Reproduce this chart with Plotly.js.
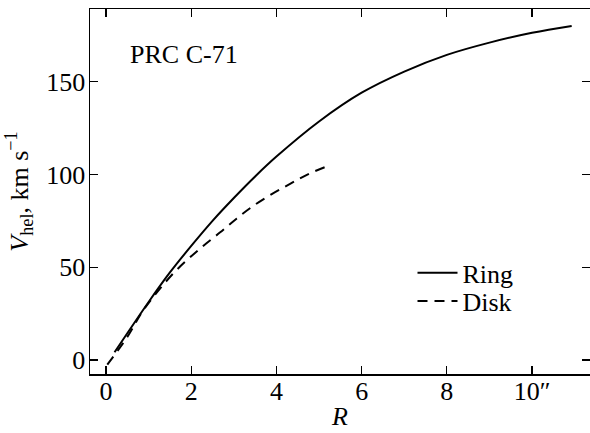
<!DOCTYPE html>
<html>
<head>
<meta charset="utf-8">
<script src="https://cdn.plot.ly/plotly-3.0.1.min.js"></script>
<style>html,body{margin:0;padding:0;background:#fff;}#chart{width:590px;height:433px;}</style>
</head>
<body>
<div id="chart"></div>
<script>
// Data
const ringR = [0.2, 1, 1.5, 2, 2.5, 3, 3.5, 4, 5, 6, 7, 8, 9, 10, 10.93];
const ringV = [4.2, 31.3, 47.2, 61.5, 75.0, 87.3, 98.9, 109.6, 128.5, 144, 155.4, 164.4, 171, 176.3, 180];
const diskR = [0.03, 0.5, 0.88, 1.58, 2.21, 2.68, 3.07, 3.46, 3.89, 4.32, 4.75, 5.26];
const diskV = [-2.5, 12.5, 27, 46.7, 60.1, 68.8, 76.3, 83.1, 89.4, 94.9, 100.2, 105];
const xTickVals = [0, 2, 4, 6, 8, 10];
const xTickText = ["0", "2", "4", "6", "8", "10\u2033"];
const yTickVals = [0, 50, 100, 150];
const yTickText = ["0", "50", "100", "150"];
const seriesNames = ["Ring", "Disk"];
const label = "PRC C-71";

const FONT = "'Liberation Serif', 'Times New Roman', serif";

const traces = [
  {x: ringR, y: ringV, name: seriesNames[0], mode: "lines", type: "scatter", legend: "legend",
   line: {color: "#000", width: 2, shape: "spline", smoothing: 1}},
  {x: diskR, y: diskV, name: seriesNames[1], mode: "lines", type: "scatter", legend: "legend2",
   line: {color: "#000", width: 2, dash: "10px,7px", shape: "spline", smoothing: 1}}
];

const axisCommon = {
  showgrid: false, zeroline: false, showline: true, mirror: "ticks",
  linecolor: "#000", linewidth: 1.5, ticks: "inside", ticklen: 8, tickwidth: 1.2,
  tickcolor: "#000", tickfont: {family: FONT, size: 26, color: "#000"}
};

const legendCommon = {xanchor: "left", yanchor: "middle", bgcolor: "rgba(0,0,0,0)",
  font: {family: FONT, size: 26, color: "#000"}, itemwidth: 40};

const layout = {
  width: 590, height: 433,
  margin: {l: 90, r: 0, t: 9, b: 59},
  paper_bgcolor: "#fff", plot_bgcolor: "#fff",
  font: {family: FONT, size: 26, color: "#000"},
  showlegend: true,
  legend: Object.assign({}, legendCommon, {x: 0.645, y: 0.277}),
  legend2: Object.assign({}, legendCommon, {x: 0.645, y: 0.200}),
  xaxis: Object.assign({}, axisCommon, {
    range: [-0.376, 11.36], tickmode: "array", tickvals: xTickVals, ticktext: xTickText,
    ticklabelstandoff: -7,
    title: {text: "<i>R</i>", font: {family: FONT, size: 26, color: "#000"}, standoff: 2}
  }),
  yaxis: Object.assign({}, axisCommon, {
    range: [-7.5, 189.1], tickmode: "array", tickvals: yTickVals, ticktext: yTickText,
    ticklabelstandoff: -2,
    title: {text: "<i>V</i><sub>hel</sub>, km s<sup>\u22121</sup>", font: {family: FONT, size: 26, color: "#000"}, standoff: 10}
  }),
  annotations: [
    {text: label, xref: "paper", yref: "paper", x: 0.076, y: 0.876,
     xanchor: "left", yanchor: "middle", showarrow: false,
     font: {family: FONT, size: 26, color: "#000"}}
  ]
};

Plotly.newPlot("chart", traces, layout, {staticPlot: true, displayModeBar: false});
</script>
</body>
</html>
